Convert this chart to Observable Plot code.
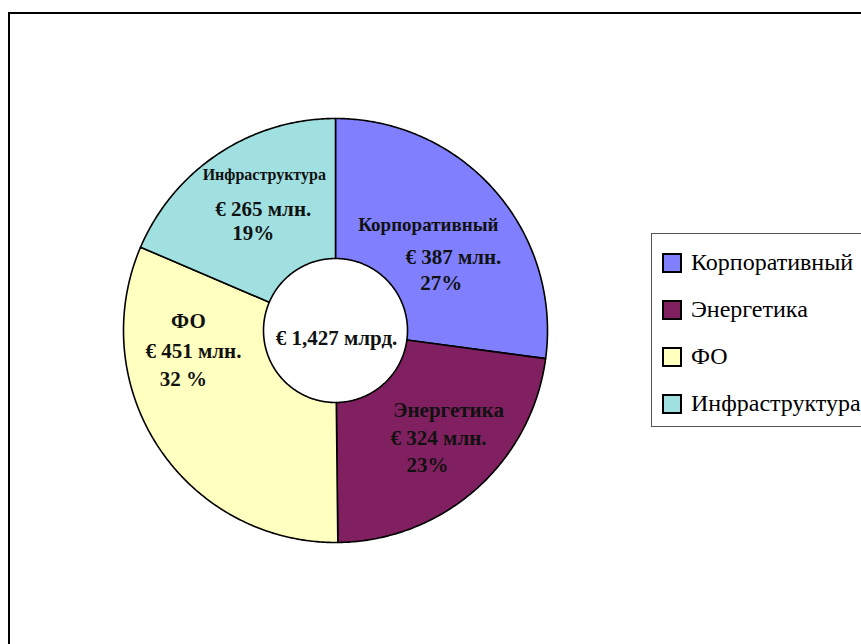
<!DOCTYPE html>
<html>
<head>
<meta charset="utf-8">
<script src="https://cdn.jsdelivr.net/npm/d3@7"></script>
<script src="https://cdn.jsdelivr.net/npm/@observablehq/plot@0.6"></script>
<style>
  html, body { margin: 0; padding: 0; background: #fff; font-family: 'Liberation Serif', 'DejaVu Serif', serif; }
  #wrap { position: relative; width: 861px; height: 644px; overflow: hidden; }
  #frame { position: absolute; left: 8px; top: 12px; width: 2000px; height: 2000px;
           border-left: 2px solid #000; border-top: 2px solid #000; box-sizing: border-box; }
  #chart { position: absolute; left: 0; top: 0; }
  #legend { position: absolute; left: 651px; top: 233px; width: 260px; height: 194px;
            border: 1px solid #555; box-sizing: border-box; padding-top: 5px; background: #fff;
            font-family: 'Liberation Serif', 'DejaVu Serif', serif; font-size: 24px; color: #000; }
  .row { height: 47px; display: flex; align-items: center; padding-left: 10px; white-space: nowrap; }
  .sw { width: 16px; height: 16px; border: 2px solid #000; margin-right: 9px; flex: none; }
</style>
</head>
<body>
<div id="wrap">
  <div id="frame"></div>
  <div id="chart"></div>
  <div id="legend"></div>
</div>
<script>
// ---- data ----
const categories = ["Корпоративный", "Энергетика", "ФО", "Инфраструктура"];
const values = [387, 324, 451, 265]; // € млн.
const valueLabels = ["€ 387 млн.", "€ 324 млн.", "€ 451 млн.", "€ 265 млн."];
const percentLabels = ["27%", "23%", "32 %", "19%"];
const totalLabel = "€ 1,427 млрд.";
const colors = ["#8080FF", "#802060", "#FFFFC0", "#A0E0E0"];

// ---- layout (not data) ----
const cx = 335, cy = 330, R = 212;
const innerFrac = 72 / 212;
const labelFrac = 142 / 212;
// pixel nudges per label line [name, value, percent] relative to slice centroid
const nudges = {
  "Корпоративный": [[-14, -12], [11, 20], [-1, 46]],
  "Энергетика": [[19, -27], [9, 1], [-2, 28]],
  "ФО": [[-29, -88], [-24, -58], [-34, -30]],
  "Инфраструктура": [[7, -37], [6, -3], [-4, 21]]
};
const nameSizes = {"Корпоративный": 19, "Энергетика": 21, "ФО": 21, "Инфраструктура": 16};
const lineSizes = [19, 21, 21];

// ---- geometry from data ----
const pie = d3.pie().sort(null).value(d => d.value);
const table = categories.map((c, i) => ({category: c, value: values[i], valueLabel: valueLabels[i], pct: percentLabels[i]}));
const arcs = pie(table);
const poly = [];
for (const a of arcs) {
  const n = Math.max(8, Math.ceil((a.endAngle - a.startAngle) / 0.01));
  for (let k = 0; k <= n; k++) {
    const t = a.startAngle + (a.endAngle - a.startAngle) * k / n;
    poly.push({category: a.data.category, x: Math.sin(t), y: Math.cos(t)});
  }
  for (let k = n; k >= 0; k--) {
    const t = a.startAngle + (a.endAngle - a.startAngle) * k / n;
    poly.push({category: a.data.category, x: innerFrac * Math.sin(t), y: innerFrac * Math.cos(t)});
  }
}
const cents = arcs.map(a => {
  const m = (a.startAngle + a.endAngle) / 2;
  return {...a.data, x: labelFrac * Math.sin(m), y: labelFrac * Math.cos(m)};
});

const textMarks = [];
cents.forEach(c => {
  const nd = nudges[c.category];
  const lines = [c.category, c.valueLabel, c.pct];
  lines.forEach((txt, j) => {
    textMarks.push(Plot.text([c], {
      x: "x", y: "y", text: () => txt,
      dx: nd[j][0], dy: nd[j][1],
      fontSize: j === 0 ? nameSizes[c.category] : lineSizes[j],
      fontWeight: "bold", fill: "#111"
    }));
  });
});

const chart = Plot.plot({
  width: 861, height: 644, margin: 0,
  style: {fontFamily: "'Liberation Serif', 'DejaVu Serif', serif", background: "transparent"},
  x: {domain: [-1, 1], range: [cx - R, cx + R], axis: null},
  y: {domain: [-1, 1], range: [cy + R, cy - R], axis: null},
  color: {domain: categories, range: colors},
  marks: [
    Plot.line(poly, {x: "x", y: "y", z: "category", fill: "category", stroke: "#000", strokeWidth: 1.6, curve: "linear-closed"}),
    ...textMarks,
    Plot.text([{x: 0, y: 0}], {x: "x", y: "y", text: () => totalLabel, dx: 1, dy: 8, fontSize: 21, fontWeight: "bold", fill: "#111"})
  ]
});
document.getElementById("chart").appendChild(chart);

// legend
const color = chart.scale("color");
const leg = document.getElementById("legend");
categories.forEach(c => {
  const row = document.createElement("div");
  row.className = "row";
  const sw = document.createElement("span");
  sw.className = "sw";
  sw.style.background = color.apply(c);
  row.appendChild(sw);
  row.appendChild(document.createTextNode(c));
  leg.appendChild(row);
});
</script>
</body>
</html>
